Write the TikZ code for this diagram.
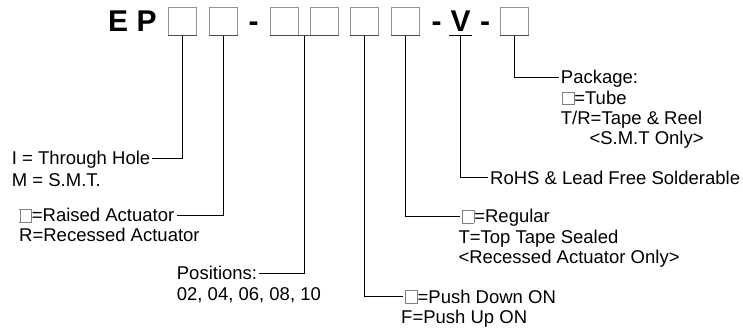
\documentclass[tikz,border=0pt]{standalone}
\usepackage{fontspec}
\setmainfont{Liberation Sans}
\usetikzlibrary{calc}

\newcommand{\emptybox}{{\color{gray}\setlength{\fboxsep}{0pt}\setlength{\fboxrule}{0.7pt}\fbox{\rule{0pt}{12pt}\hspace{11pt}}}}

\tikzset{
  slot/.style={draw=gray!85, line width=0.9pt, minimum size=28pt, inner sep=0pt},
  code/.style={font=\fontsize{30}{30}\selectfont\bfseries, inner sep=0pt, anchor=base west},
  lbl/.style={font=\fontsize{18.5}{20}\selectfont, inner xsep=2pt, inner ysep=0pt,
    text height=13pt, text depth=0pt, anchor=base west},
  wire/.style={draw=black, line width=0.8pt},
}

\begin{document}
\begin{tikzpicture}[x=1pt,y=-1pt]
  \useasboundingbox (0,0) rectangle (743,331);

  % Code de commande
  \node[code] (ep) at (108,32) {E P};
  \foreach \n/\x in {b1/182.5, b2/223.3, b3/284, b4/324.5, b5/364.8, b6/405.5, b7/514.5}
    \node[slot] (\n) at (\x,21.2) {};
  \node[code] (d1) at (248.5,32) {-};
  \node[code] (d2) at (431.5,32) {-};
  \node[code] (d3) at (480,32) {-};
  \node[code, anchor=base, inner xsep=1.5pt, inner ysep=3pt, text depth=0pt] (vee) at (460.5,32) {V};

  % Bords inferieurs
  \foreach \n in {b1,b2,b3,b4,b5,b6,b7}
    \draw[line width=1.6pt, black!70] (\n.south west) -- (\n.south east);
  \draw[line width=1.6pt, black!70] (b3.south east) -- (b4.south west);
  \draw[wire] (vee.south west) -- (vee.south east);

  % Legendes
  \node[lbl] (thole) at (9.7,164.5) {I = Through Hole};
  \node[lbl] (smt) at (9.7,186) {M = S.M.T.};
  \node[lbl] (raised) at (17.3,221.5) {\emptybox=Raised Actuator};
  \node[lbl] (recessed) at (17,241) {R=Recessed Actuator};
  \node[lbl] (pos) at (174.7,279.5) {Positions:};
  \node[lbl] (posvals) at (174.7,300) {02, 04, 06, 08, 10};
  \node[lbl] (pushdn) at (403,303) {\emptybox=Push Down ON};
  \node[lbl] (pushup) at (399,323) {F=Push Up ON};
  \node[lbl] (regular) at (459.7,222.5) {\emptybox=Regular};
  \node[lbl] (topseal) at (456.3,243) {T=Top Tape Sealed};
  \node[lbl] (reconly) at (456.3,263.3) {<Recessed Actuator Only>};
  \node[lbl] (rohs) at (488,184) {RoHS \& Lead Free Solderable};
  \node[lbl] (pkg) at (558.7,83.5) {Package:};
  \node[lbl] (tube) at (559.7,104.5) {\emptybox=Tube};
  \node[lbl] (tapereel) at (558.7,124.5) {T/R=Tape \& Reel};
  \node[lbl] (smtonly) at (587.3,144.5) {<S.M.T Only>};

  % Liaisons
  \draw[wire] (b1.south) |- (thole.east);
  \draw[wire] (b2.south) |- (raised.east);
  \coordinate (pj) at ($(b3.south east)!0.5!(b4.south west)$);
  \draw[wire] (pj) |- (pos.east);
  \draw[wire] (b5.south) |- (pushdn.west);
  \draw[wire] (b6.south) |- (regular.west);
  \draw[wire] (vee.south) |- (rohs.west);
  \draw[wire] (b7.south) |- (pkg.west);

\end{tikzpicture}
\end{document}
